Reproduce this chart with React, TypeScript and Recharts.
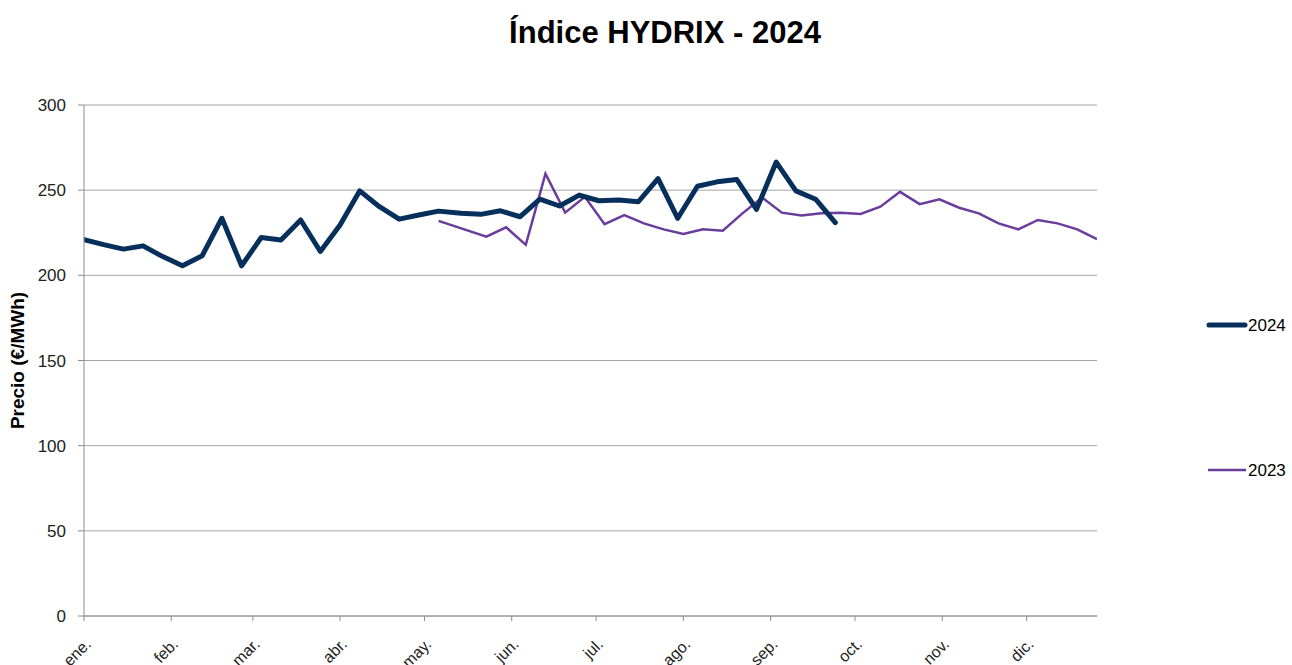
import { CartesianGrid, Line, LineChart, XAxis, YAxis } from 'recharts'

// day of year (2024 scale) where each month starts, and its label
const monthStarts = [0, 31, 60, 91, 121, 152, 182, 213, 244, 274, 305, 335]
const monthLabels = ['ene.', 'feb.', 'mar.', 'abr.', 'may.', 'jun.', 'jul.', 'ago.', 'sep.', 'oct.', 'nov.', 'dic.']
const yTicks = [0, 50, 100, 150, 200, 250, 300]

// 2024 weekly index (€/MWh)
const days2024 = [
  0, 7, 14, 21, 28, 35, 42, 49, 56, 63, 70, 77, 84, 91, 98, 105, 112, 119, 126,
  134, 141, 148, 155, 162, 169, 176, 183, 190, 197, 204, 211, 218, 225, 232, 239, 246, 253, 260, 267,
]
const prices2024 = [
  221, 218, 215.4, 217.3, 211, 205.6, 211.5, 233.5, 205.6, 222.2, 220.8, 232.5, 214, 229.6, 249.6, 240.3, 233, 235.4, 237.7,
  236.5, 235.8, 237.9, 234.4, 244.7, 240.7, 247.1, 243.8, 244.2, 243.2, 256.8, 233.5, 252.3, 254.9, 256.2, 238.7, 266.5, 249.6, 244.7, 231,
]

// 2023 weekly index, placed on the same calendar
const days2023 = [
  126, 143, 150, 157, 164, 171, 178, 185, 192, 199, 206, 213, 220, 227, 234, 241, 248,
  255, 262, 269, 276, 283, 290, 297, 304, 311, 318, 325, 332, 339, 346, 353, 360,
]
const prices2023 = [
  232, 222.7, 228.2, 217.9, 259.7, 236.8, 246.1, 230, 235.4, 230.5, 227, 224.3, 227, 226.2, 236.4, 245.7, 236.8,
  235.1, 236.4, 236.8, 236, 240.3, 249, 241.8, 244.6, 239.7, 236.4, 230.5, 227, 232.5, 230.5, 227, 221.2,
]

const data2024 = days2024.map((day, i) => ({ day, value: prices2024[i] }))
const data2023 = days2023.map((day, i) => ({ day, value: prices2023[i] }))

const FONT = '"Liberation Sans", Arial, sans-serif'
const NAVY = '#062f5b'
const PURPLE = '#6a3c9c'

export default function App() {
  return (
    <div style={{ position: 'absolute', left: 0, top: 0, width: 1292, height: 665, background: '#fff', fontFamily: FONT }}>
      <div
        style={{
          position: 'absolute',
          top: 17,
          left: 665,
          transform: 'translateX(-50%)',
          fontSize: 31,
          lineHeight: '31px',
          fontWeight: 'bold',
          whiteSpace: 'nowrap',
          color: '#000',
        }}
      >
        Índice HYDRIX - 2024
      </div>

      <LineChart width={1292} height={665} margin={{ top: 105, right: 195, bottom: 0, left: 0 }}>
        <CartesianGrid horizontal vertical={false} stroke='#a6a6a6' />
        <XAxis
          dataKey='day'
          type='number'
          domain={[0, 360]}
          ticks={monthStarts}
          allowDataOverflow
          height={49}
          tickSize={5}
          tickMargin={2}
          stroke='#8c8c8c'
          interval={0}
          tickFormatter={(v: number) => monthLabels[monthStarts.indexOf(v)]}
          tick={{
            fill: '#222',
            fontSize: 16,
            fontFamily: FONT,
            angle: -45,
            textAnchor: 'end',
            verticalAnchor: 'end',
            dx: 0,
            dy: 14,
          } as any}
        />
        <YAxis
          type='number'
          domain={[0, 300]}
          ticks={yTicks}
          width={84}
          tickSize={6}
          tickMargin={12}
          stroke='#8c8c8c'
          tick={{ fill: '#222', fontSize: 17, fontFamily: FONT }}
          label={{
            value: 'Precio (€/MWh)',
            angle: -90,
            position: 'insideLeft',
            offset: 17,
            style: { fontSize: 19, fontWeight: 'bold', fill: '#000', fontFamily: FONT, textAnchor: 'middle' },
          }}
        />
        <Line
          data={data2023}
          dataKey='value'
          name='2023'
          type='linear'
          stroke={PURPLE}
          strokeWidth={2.5}
          dot={false}
          isAnimationActive={false}
        />
        <Line
          data={data2024}
          dataKey='value'
          name='2024'
          type='linear'
          stroke={NAVY}
          strokeWidth={5}
          strokeLinecap='round'
          strokeLinejoin='round'
          dot={false}
          isAnimationActive={false}
        />
      </LineChart>

      {/* legend */}
      <svg style={{ position: 'absolute', left: 1200, top: 300 }} width={92} height={190}>
        <line x1={9} y1={25} x2={45} y2={25} stroke={NAVY} strokeWidth={5} strokeLinecap='round' />
        <text x={48} y={31} fontSize={17} fontFamily={FONT} fill='#000'>2024</text>
        <line x1={8} y1={170} x2={46} y2={170} stroke={PURPLE} strokeWidth={2.5} />
        <text x={48} y={176} fontSize={17} fontFamily={FONT} fill='#000'>2023</text>
      </svg>
    </div>
  )
}
